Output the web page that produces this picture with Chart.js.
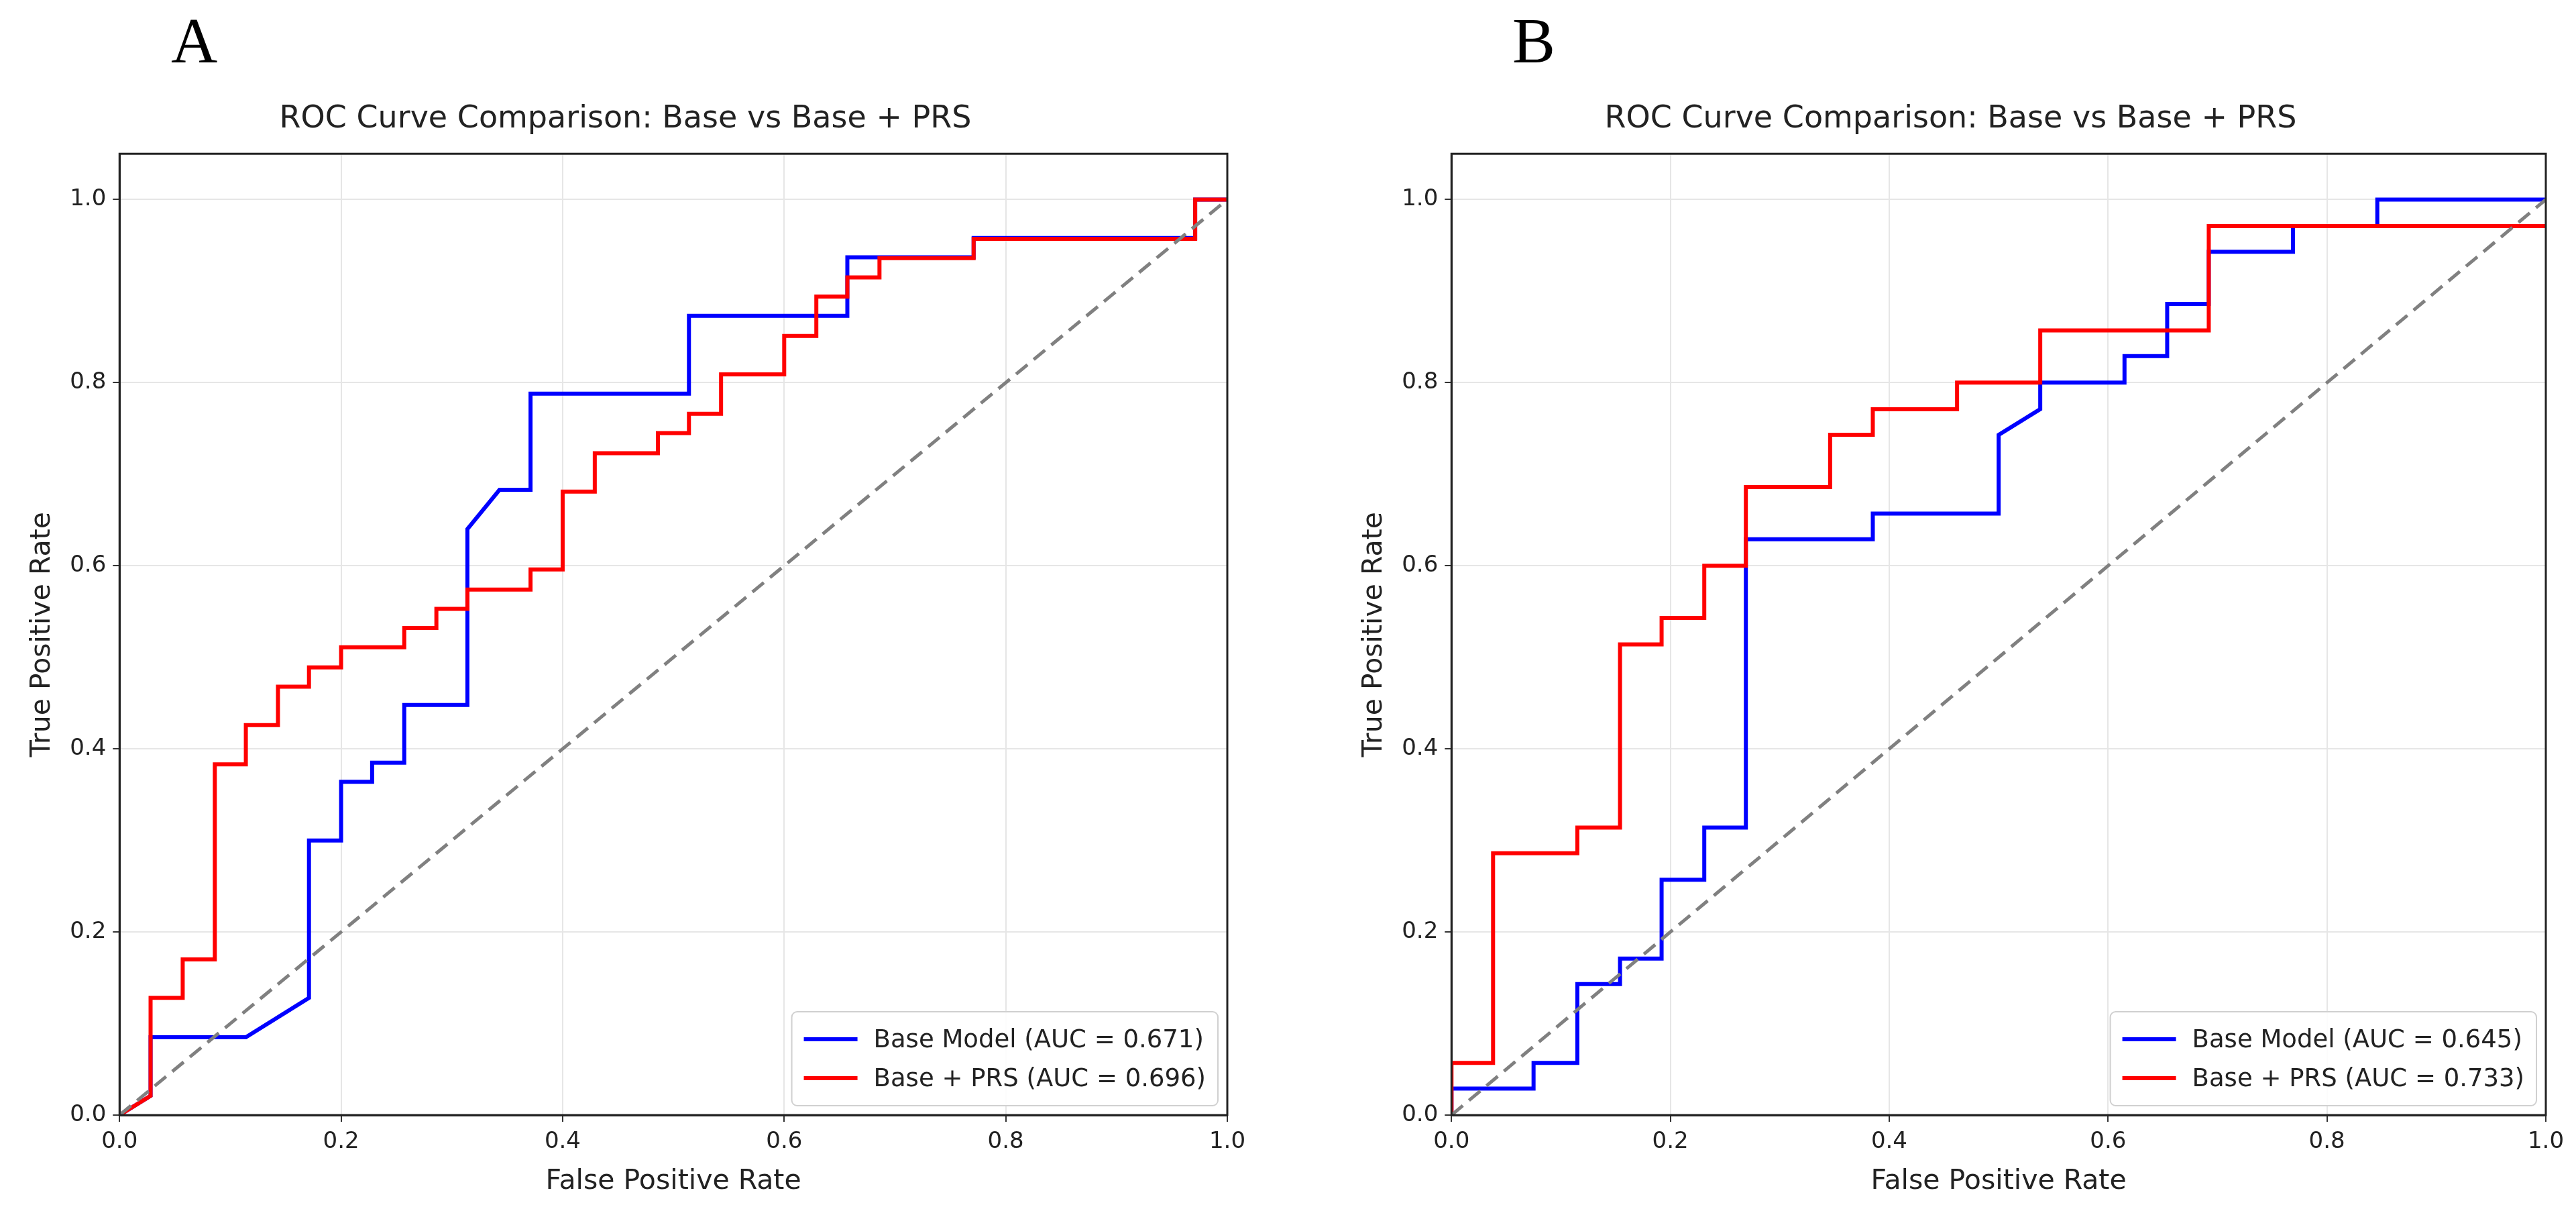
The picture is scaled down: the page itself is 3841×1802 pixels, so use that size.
<!DOCTYPE html>
<html>
<head>
<meta charset="utf-8">
<script src="https://cdn.jsdelivr.net/npm/chart.js@4/dist/chart.umd.min.js"></script>
<style>
  body { margin: 0; background: #fff; width: 3841px; height: 1802px; position: relative; overflow: hidden; }
  canvas { position: absolute; }
  .tag { position: absolute; font-family: "Liberation Serif", serif; font-size: 96px; color: #000; }
</style>
</head>
<body>
<div class="tag" style="left:255px; top:5px;">A</div>
<div class="tag" style="left:2255px; top:5px;">B</div>
<canvas id="rocA" width="1900" height="1802" style="left:0; top:0;"></canvas>
<canvas id="rocB" width="1900" height="1802" style="left:1941px; top:0;"></canvas>
<script>
// Panel A
const fprBaseA = [0, 0.028, 0.028, 0.114, 0.171, 0.171, 0.2, 0.2, 0.228, 0.228, 0.257, 0.257, 0.314, 0.314, 0.343, 0.371, 0.371, 0.514, 0.514, 0.657, 0.657, 0.771, 0.771, 0.971, 0.971, 1];
const tprBaseA = [0, 0.021, 0.085, 0.085, 0.128, 0.3, 0.3, 0.364, 0.364, 0.385, 0.385, 0.448, 0.448, 0.64, 0.683, 0.683, 0.788, 0.788, 0.873, 0.873, 0.937, 0.937, 0.958, 0.958, 1, 1];
const fprPrsA = [0, 0.028, 0.028, 0.057, 0.057, 0.086, 0.086, 0.114, 0.114, 0.143, 0.143, 0.171, 0.171, 0.2, 0.2, 0.257, 0.257, 0.286, 0.286, 0.314, 0.314, 0.371, 0.371, 0.4, 0.4, 0.429, 0.429, 0.486, 0.486, 0.514, 0.514, 0.543, 0.543, 0.6, 0.6, 0.629, 0.629, 0.657, 0.657, 0.686, 0.686, 0.771, 0.771, 0.971, 0.971, 1];
const tprPrsA = [0, 0.021, 0.128, 0.128, 0.17, 0.17, 0.383, 0.383, 0.426, 0.426, 0.468, 0.468, 0.489, 0.489, 0.511, 0.511, 0.532, 0.532, 0.553, 0.553, 0.574, 0.574, 0.596, 0.596, 0.681, 0.681, 0.723, 0.723, 0.745, 0.745, 0.766, 0.766, 0.809, 0.809, 0.851, 0.851, 0.894, 0.894, 0.915, 0.915, 0.936, 0.936, 0.957, 0.957, 1, 1];
const aucA = ["0.671", "0.696"];

// Panel B
const fprBaseB = [0, 0, 0.075, 0.075, 0.115, 0.115, 0.154, 0.154, 0.192, 0.192, 0.231, 0.231, 0.269, 0.269, 0.385, 0.385, 0.5, 0.5, 0.538, 0.538, 0.615, 0.615, 0.654, 0.654, 0.692, 0.692, 0.769, 0.769, 0.846, 0.846, 1];
const tprBaseB = [0, 0.029, 0.029, 0.057, 0.057, 0.143, 0.143, 0.171, 0.171, 0.257, 0.257, 0.314, 0.314, 0.629, 0.629, 0.657, 0.657, 0.743, 0.771, 0.8, 0.8, 0.829, 0.829, 0.886, 0.886, 0.943, 0.943, 0.971, 0.971, 1, 1];
const fprPrsB = [0, 0, 0.038, 0.038, 0.115, 0.115, 0.154, 0.154, 0.192, 0.192, 0.231, 0.231, 0.269, 0.269, 0.346, 0.346, 0.385, 0.385, 0.462, 0.462, 0.538, 0.538, 0.692, 0.692, 1];
const tprPrsB = [0, 0.057, 0.057, 0.286, 0.286, 0.314, 0.314, 0.514, 0.514, 0.543, 0.543, 0.6, 0.6, 0.686, 0.686, 0.743, 0.743, 0.771, 0.771, 0.8, 0.8, 0.857, 0.857, 0.971, 0.971];
const aucB = ["0.645", "0.733"];

const axisTicks = [0, 0.2, 0.4, 0.6, 0.8, 1.0];
const font = "DejaVu Sans";

const toPts = (xs, ys) => xs.map((x, i) => ({x: x, y: ys[i]}));

// draws the legend inside the plot, bottom right, like matplotlib
const insideLegend = {
  id: 'insideLegend',
  afterDraw(chart) {
    const ctx = chart.ctx, area = chart.chartArea;
    const items = chart.data.datasets.filter(d => d.label);
    ctx.save();
    ctx.font = "37px " + font;
    const textW = Math.max(...items.map(d => ctx.measureText(d.label).width));
    const rowH = 58, lineW = 80;
    const w = textW + lineW + 60, h = rowH * items.length + 24;
    const x = area.right - w - 14, y = area.bottom - h - 14;
    ctx.fillStyle = "rgba(255,255,255,0.85)";
    ctx.strokeStyle = "#d0d0d0";
    ctx.lineWidth = 2;
    ctx.beginPath();
    ctx.roundRect(x, y, w, h, 8);
    ctx.fill(); ctx.stroke();
    items.forEach((d, i) => {
      const cy = y + 12 + rowH * i + rowH / 2;
      ctx.strokeStyle = d.borderColor;
      ctx.lineWidth = 6;
      ctx.beginPath();
      ctx.moveTo(x + 18, cy); ctx.lineTo(x + 18 + lineW, cy);
      ctx.stroke();
      ctx.fillStyle = "#222";
      ctx.textBaseline = "middle";
      ctx.fillText(d.label, x + 18 + lineW + 24, cy + 2);
    });
    ctx.restore();
  }
};

function plotRoc(id, base, prs, auc, pad) {
  const ctx = document.getElementById(id).getContext("2d");
  return new Chart(ctx, {
    type: 'scatter',
    data: {
      datasets: [
        {data: [{x: 0, y: 0}, {x: 1, y: 1}], borderColor: '#808080', borderDash: [22, 12], borderWidth: 5, showLine: true, pointRadius: 0, order: 0},
        {label: "Base Model (AUC = " + auc[0] + ")", data: base, borderColor: '#0000ff', borderWidth: 6, showLine: true, pointRadius: 0, order: 2},
        {label: "Base + PRS (AUC = " + auc[1] + ")", data: prs, borderColor: '#ff0000', borderWidth: 6, showLine: true, pointRadius: 0, order: 1}
      ]
    },
    options: {
      responsive: false,
      animation: false,
      devicePixelRatio: 1,
      layout: {padding: pad},
      plugins: {
        legend: {display: false},
        tooltip: {enabled: false},
        title: {display: true, text: "ROC Curve Comparison: Base vs Base + PRS", color: '#222', font: {family: font, size: 46, weight: 'normal'}, padding: {top: 0, bottom: 24}}
      },
      scales: {
        x: {
          type: 'linear', min: 0, max: 1,
          afterBuildTicks: (s) => { s.ticks = axisTicks.map(v => ({value: v})); },
          ticks: {callback: (v) => v.toFixed(1), color: '#222', font: {family: font, size: 34}, padding: 10, maxRotation: 0},
          grid: {color: '#e6e6e6', lineWidth: 2, tickLength: 10, tickColor: '#333'},
          border: {color: '#222', width: 3},
          title: {display: true, text: "False Positive Rate", color: '#222', font: {family: font, size: 41}, padding: {top: 4}}
        },
        y: {
          type: 'linear', min: 0, max: 1.05,
          afterBuildTicks: (s) => { s.ticks = axisTicks.map(v => ({value: v})); },
          ticks: {callback: (v) => v.toFixed(1), color: '#222', font: {family: font, size: 34}, padding: 10},
          grid: {color: '#e6e6e6', lineWidth: 2, tickLength: 10, tickColor: '#333'},
          border: {color: '#222', width: 3},
          title: {display: true, text: "True Positive Rate", color: '#222', font: {family: font, size: 41}, padding: {bottom: 6}}
        }
      }
    },
    plugins: [insideLegend, {
      id: 'frame',
      afterDraw(chart) {
        const c = chart.ctx, a = chart.chartArea;
        c.save(); c.strokeStyle = '#222'; c.lineWidth = 3;
        c.strokeRect(a.left, a.top, a.right - a.left, a.bottom - a.top);
        c.restore();
      }
    }]
  });
}

plotRoc('rocA', toPts(fprBaseA, tprBaseA), toPts(fprPrsA, tprPrsA), aucA, {left: 35, right: 70, top: 150, bottom: 12});
plotRoc('rocB', toPts(fprBaseB, tprBaseB), toPts(fprPrsB, tprPrsB), aucB, {left: 80, right: 45, top: 150, bottom: 12});
</script>
</body>
</html>
